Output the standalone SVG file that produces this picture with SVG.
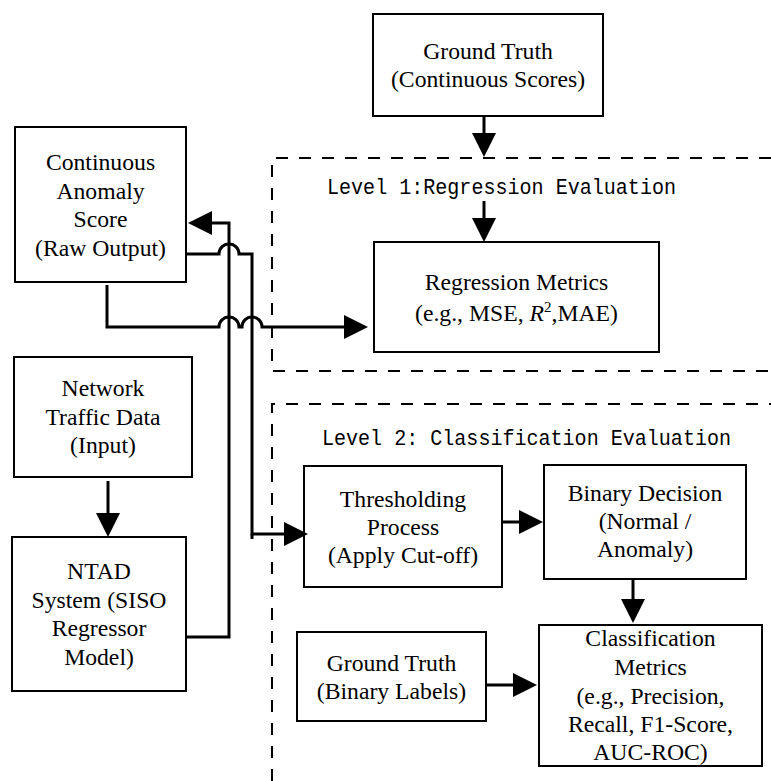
<svg xmlns="http://www.w3.org/2000/svg" width="771" height="781" viewBox="0 0 771 781">
  <style>
    .box { fill: #ffffff; stroke: #000000; stroke-width: 2; }
    .zone { fill: none; stroke: #000000; stroke-width: 2; stroke-dasharray: 12 11; }
    .lbl { font-family: "Liberation Serif", "Times New Roman", serif; font-size: 23.7px; fill: #000000; text-anchor: middle; }
    .title { font-family: "Liberation Mono", "Courier New", monospace; font-size: 22px; fill: #000000; }
    .wire { fill: none; stroke: #000000; stroke-width: 3; }
  </style>
  <defs>
    <marker id="arrow" markerUnits="userSpaceOnUse" markerWidth="24" markerHeight="24" refX="18" refY="12" orient="auto">
      <path d="M0,0 L24,12 L0,24 z" fill="#000000"/>
    </marker>
  </defs>

  <rect x="0" y="0" width="771" height="781" fill="#ffffff"/>

  <!-- evaluation zones: open where they run off the sheet -->
  <g id="level1-zone">
    <path class="zone" d="M771,158 H272 V371 H771"/>
    <text class="title" x="327" y="194" textLength="349" lengthAdjust="spacingAndGlyphs">Level 1:Regression Evaluation</text>
  </g>
  <g id="level2-zone">
    <path class="zone" d="M272,781 V404 H771"/>
    <text class="title" x="322" y="445" textLength="409" lengthAdjust="spacingAndGlyphs">Level 2: Classification Evaluation</text>
  </g>

  <!-- nodes -->
  <g id="ground-truth-continuous">
    <rect class="box" x="373" y="14" width="230" height="102"/>
    <text class="lbl" x="488" y="58.5">Ground Truth</text>
    <text class="lbl" x="488" y="86.5">(Continuous Scores)</text>
  </g>

  <g id="continuous-score">
    <rect class="box" x="15" y="127" width="171" height="155"/>
    <text class="lbl" x="100.5" y="170">Continuous</text>
    <text class="lbl" x="100.5" y="198.5">Anomaly</text>
    <text class="lbl" x="100.5" y="227">Score</text>
    <text class="lbl" x="100.5" y="255.5">(Raw Output)</text>
  </g>

  <g id="regression-metrics">
    <rect class="box" x="374" y="242" width="285" height="110"/>
    <text class="lbl" x="516.5" y="290">Regression Metrics</text>
    <text class="lbl" x="516.5" y="320.5">(e.g., MSE, <tspan font-style="italic">R</tspan><tspan font-size="15px" dy="-9">2</tspan><tspan dy="9">,MAE)</tspan></text>
  </g>

  <g id="network-traffic">
    <rect class="box" x="14" y="357" width="178" height="120"/>
    <text class="lbl" x="103" y="396">Network</text>
    <text class="lbl" x="103" y="424.5">Traffic Data</text>
    <text class="lbl" x="103" y="453">(Input)</text>
  </g>

  <g id="ntad-system">
    <rect class="box" x="12" y="537" width="174" height="154"/>
    <text class="lbl" x="99" y="579">NTAD</text>
    <text class="lbl" x="99" y="607.5">System (SISO</text>
    <text class="lbl" x="99" y="636">Regressor</text>
    <text class="lbl" x="99" y="664.5">Model)</text>
  </g>

  <g id="thresholding">
    <rect class="box" x="304" y="466" width="198" height="121"/>
    <text class="lbl" x="403" y="507">Thresholding</text>
    <text class="lbl" x="403" y="535">Process</text>
    <text class="lbl" x="403" y="563">(Apply Cut-off)</text>
  </g>

  <g id="binary-decision">
    <rect class="box" x="544" y="465" width="202" height="114"/>
    <text class="lbl" x="645" y="501">Binary Decision</text>
    <text class="lbl" x="645" y="529">(Normal /</text>
    <text class="lbl" x="645" y="557">Anomaly)</text>
  </g>

  <g id="ground-truth-binary">
    <rect class="box" x="297" y="632" width="189" height="89"/>
    <text class="lbl" x="391.5" y="671">Ground Truth</text>
    <text class="lbl" x="391.5" y="699">(Binary Labels)</text>
  </g>

  <g id="classification-metrics">
    <rect class="box" x="539" y="625" width="223" height="141"/>
    <text class="lbl" x="650.5" y="646">Classification</text>
    <text class="lbl" x="650.5" y="675">Metrics</text>
    <text class="lbl" x="650.5" y="703.5">(e.g., Precision,</text>
    <text class="lbl" x="650.5" y="732">Recall, F1-Score,</text>
    <text class="lbl" x="650.5" y="760">AUC-ROC)</text>
  </g>

  <!-- connectors (hops mark crossings) -->
  <g id="connectors">
    <path class="wire" d="M484,116 V151" marker-end="url(#arrow)"/>
    <path class="wire" d="M484,201 V236" marker-end="url(#arrow)"/>
    <path class="wire" d="M107,285 V327 H219 a10,10 0 0 1 20,0 H242 a10,10 0 0 1 20,0 H362" marker-end="url(#arrow)"/>
    <path class="wire" d="M252,534 V539"/>
    <path class="wire" d="M186,254 H219 a10,10 0 0 1 20,0 H252 V534 H302" marker-end="url(#arrow)"/>
    <path class="wire" d="M186,637 H229 V223 H194" marker-end="url(#arrow)"/>
    <path class="wire" d="M108,481 V531" marker-end="url(#arrow)"/>
    <path class="wire" d="M502,522 H537" marker-end="url(#arrow)"/>
    <path class="wire" d="M633,579 V617" marker-end="url(#arrow)"/>
    <path class="wire" d="M487,685 H531" marker-end="url(#arrow)"/>
  </g>
</svg>
